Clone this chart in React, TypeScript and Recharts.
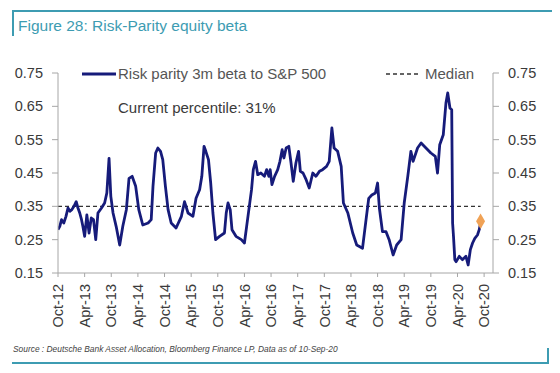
import React from "react";
import {
  ComposedChart,
  Line,
  Scatter,
  XAxis,
  YAxis,
  ZAxis,
  ReferenceLine,
} from "recharts";

// months since Oct-12 (0 = Oct-12)
const months = [
  0, 0.4, 0.8, 1.3, 1.8, 2.25, 2.7, 3.1, 3.6, 4.1, 4.5, 4.9, 5.3, 5.6, 6.0, 6.5, 7.0, 7.5, 8.0, 8.5,
  9.0, 9.8, 10.5, 11.0, 11.5, 11.9, 12.4, 13.1, 13.9, 14.6, 15.4, 16.0, 16.7, 17.5, 18.2, 19.1, 20.3,
  21.0, 21.4, 22.0, 22.5, 23.1, 23.6, 24.2, 24.8, 25.5, 26.6, 27.8, 28.5, 29.3, 30.4, 31.1, 31.9, 32.4,
  32.9, 33.3, 33.9, 34.4, 34.9, 35.5, 36.4, 37.5, 37.9, 38.3, 38.8, 39.2, 40.1, 41.3, 42.0, 42.5, 43.1,
  43.6, 44.0, 44.5, 45.0, 45.7, 46.5, 47.0, 47.5, 47.8, 48.2, 48.8, 49.5, 50.0, 50.5, 50.9, 51.4, 52.0,
  52.5, 53.0, 53.6, 54.2, 54.6, 55.2, 55.9, 56.6, 57.4, 58.1, 58.9, 59.6, 60.5, 61.1, 61.7, 62.2, 63.0,
  63.8, 64.3, 65.3, 66.4, 67.3, 68.6, 69.4, 70.0, 70.7, 71.5, 72.0, 72.4, 73.1, 73.9, 74.6, 75.5, 76.3,
  77.3, 78.0, 78.8, 79.5, 80.0, 81.0, 81.8, 82.9, 84.0, 85.0, 85.5, 86.0, 86.8, 87.4, 87.8, 88.3, 88.7,
  88.9, 89.1, 89.4, 89.7, 90.4, 91.1, 91.9, 92.4, 92.9, 93.4, 93.9, 94.5, 94.9, 95.2,
];

const beta = [
  0.28, 0.29, 0.31, 0.3, 0.32, 0.345, 0.335, 0.34, 0.35, 0.364, 0.345, 0.33, 0.31, 0.29, 0.26, 0.324,
  0.27, 0.315, 0.31, 0.25, 0.33, 0.345, 0.36, 0.39, 0.494, 0.38, 0.33, 0.29, 0.234, 0.29, 0.34, 0.434,
  0.44, 0.41, 0.34, 0.294, 0.3, 0.31, 0.41, 0.51, 0.525, 0.515, 0.49, 0.41, 0.34, 0.3, 0.285, 0.32,
  0.364, 0.33, 0.32, 0.374, 0.4, 0.44, 0.53, 0.515, 0.49, 0.42, 0.33, 0.25, 0.26, 0.27, 0.33, 0.36,
  0.34, 0.28, 0.26, 0.25, 0.24, 0.29, 0.35,
  0.4, 0.46, 0.485, 0.445, 0.45, 0.44, 0.46, 0.44, 0.46, 0.415, 0.44, 0.46, 0.485, 0.52, 0.495, 0.525,
  0.53, 0.48, 0.425, 0.48, 0.515, 0.455, 0.45, 0.43, 0.405, 0.45, 0.44, 0.455, 0.46, 0.47, 0.485, 0.585,
  0.525, 0.515,
  0.47, 0.36, 0.33, 0.27, 0.234, 0.224, 0.31, 0.374, 0.384, 0.39, 0.42, 0.345, 0.274, 0.274, 0.25,
  0.204, 0.234, 0.25, 0.36, 0.44, 0.515, 0.485, 0.525, 0.54, 0.525, 0.51, 0.5, 0.45, 0.535, 0.565,
  0.66, 0.69, 0.645, 0.64, 0.3, 0.26, 0.19, 0.184, 0.2, 0.19, 0.2, 0.174, 0.22, 0.24, 0.254, 0.264,
  0.28, 0.3,
];

const MEDIAN = 0.35;
const latestMonth = 95.2;
const latestValue = 0.305;

const xTicks = [0, 6, 12, 18, 24, 30, 36, 42, 48, 54, 60, 66, 72, 78, 84, 90, 96];
const xLabels = [
  "Oct-12", "Apr-13", "Oct-13", "Apr-14", "Oct-14", "Apr-15", "Oct-15", "Apr-16", "Oct-16",
  "Apr-17", "Oct-17", "Apr-18", "Oct-18", "Apr-19", "Oct-19", "Apr-20", "Oct-20",
];
const yTicks = [0.15, 0.25, 0.35, 0.45, 0.55, 0.65, 0.75];

const rows = months.map((m, i) => ({ m, beta: beta[i] }));
const latest = [{ m: latestMonth, v: latestValue }];

const NAVY = "#161b7a";
const TEAL = "#3d9cb2";
const AXIS = "#a6a6a6";
const TEXT = "#3a3a3a";
const FONT = "'Liberation Sans', Arial, sans-serif";

function XTick(props: any) {
  const { x, y, payload } = props;
  const label = xLabels[xTicks.indexOf(payload.value)] ?? "";
  return (
    <text
      x={x}
      y={y}
      transform={`rotate(-90 ${x} ${y})`}
      textAnchor="end"
      dy="0.36em"
      fontSize={14.5}
      fill={TEXT}
      fontFamily={FONT}
    >
      {label}
    </text>
  );
}

export default function App() {
  const tickStyle = { fontSize: 14.5, fill: TEXT, fontFamily: FONT };
  return (
    <div
      style={{
        position: "absolute",
        left: 0,
        top: 0,
        width: 560,
        height: 373,
        background: "#fff",
        fontFamily: FONT,
        overflow: "hidden",
      }}
    >
      {/* frame */}
      <div style={{ position: "absolute", left: 12, top: 10, width: 540, height: 2, background: TEAL }} />
      <div style={{ position: "absolute", left: 12, top: 10, width: 2, height: 26, background: TEAL }} />
      <div style={{ position: "absolute", left: 12, top: 362, width: 537, height: 2, background: TEAL }} />
      <div style={{ position: "absolute", left: 547, top: 348, width: 2, height: 16, background: TEAL }} />
      <div
        style={{
          position: "absolute",
          left: 18,
          top: 18,
          fontSize: 15.5,
          lineHeight: "16px",
          color: TEAL,
          whiteSpace: "nowrap",
        }}
      >
        Figure 28: Risk-Parity equity beta
      </div>

      <div style={{ position: "absolute", left: 0, top: 0 }}>
        <ComposedChart
          width={560}
          height={373}
          data={rows}
          margin={{ top: 73, right: 7, bottom: 40, left: 0 }}
        >
          <XAxis
            dataKey="m"
            type="number"
            domain={[0, 98]}
            ticks={xTicks}
            interval={0}
            height={60}
            stroke={AXIS}
            tickSize={4}
            tickMargin={7}
            tick={<XTick />}
            allowDataOverflow
          />
          <YAxis
            yAxisId="left"
            orientation="left"
            domain={[0.15, 0.75]}
            ticks={yTicks}
            width={58}
            stroke={AXIS}
            tickSize={6}
            tickMargin={9}
            tick={tickStyle}
            tickFormatter={(v) => Number(v).toFixed(2)}
            allowDataOverflow
          />
          <YAxis
            yAxisId="right"
            orientation="right"
            domain={[0.15, 0.75]}
            ticks={yTicks}
            width={60}
            stroke={AXIS}
            tickSize={6}
            tickMargin={9}
            tick={tickStyle}
            tickFormatter={(v) => Number(v).toFixed(2)}
            allowDataOverflow
          />
          <ZAxis range={[70, 70]} />
          <ReferenceLine
            yAxisId="left"
            segment={[
              { x: 0, y: MEDIAN },
              { x: latestMonth, y: MEDIAN },
            ]}
            stroke="#333"
            strokeWidth={1.3}
            strokeDasharray="4 3"
          />
          <Line
            yAxisId="left"
            type="linear"
            dataKey="beta"
            stroke={NAVY}
            strokeWidth={2.8}
            strokeLinejoin="round"
            dot={false}
            isAnimationActive={false}
          />
          <Scatter
            yAxisId="left"
            data={latest}
            dataKey="v"
            shape="diamond"
            fill="#f0a256"
            isAnimationActive={false}
          />
        </ComposedChart>
      </div>

      {/* legend */}
      <div style={{ position: "absolute", left: 82, top: 66, height: 16, display: "flex", alignItems: "center" }}>
        <svg width={34} height={16}>
          <line x1={0} y1={8} x2={34} y2={8} stroke={NAVY} strokeWidth={2.8} />
        </svg>
        <span style={{ fontSize: 15, lineHeight: "16px", color: "#555", marginLeft: 2, whiteSpace: "nowrap" }}>
          Risk parity 3m beta to S&amp;P 500
        </span>
      </div>
      <div style={{ position: "absolute", left: 386, top: 66, height: 16, display: "flex", alignItems: "center" }}>
        <svg width={35} height={16}>
          <line x1={0} y1={8} x2={35} y2={8} stroke="#333" strokeWidth={1.3} strokeDasharray="4 3" />
        </svg>
        <span style={{ fontSize: 15, lineHeight: "16px", color: "#555", marginLeft: 4, whiteSpace: "nowrap" }}>
          Median
        </span>
      </div>

      <div
        style={{
          position: "absolute",
          left: 118,
          top: 100,
          fontSize: 15,
          lineHeight: "16px",
          color: TEXT,
          whiteSpace: "nowrap",
        }}
      >
        Current percentile: 31%
      </div>

      <div
        style={{
          position: "absolute",
          left: 13,
          top: 344,
          fontSize: 8.4,
          lineHeight: "10px",
          fontStyle: "italic",
          color: "#444",
          whiteSpace: "nowrap",
        }}
      >
        Source : Deutsche Bank Asset Allocation, Bloomberg Finance LP, Data as of 10-Sep-20
      </div>
    </div>
  );
}
